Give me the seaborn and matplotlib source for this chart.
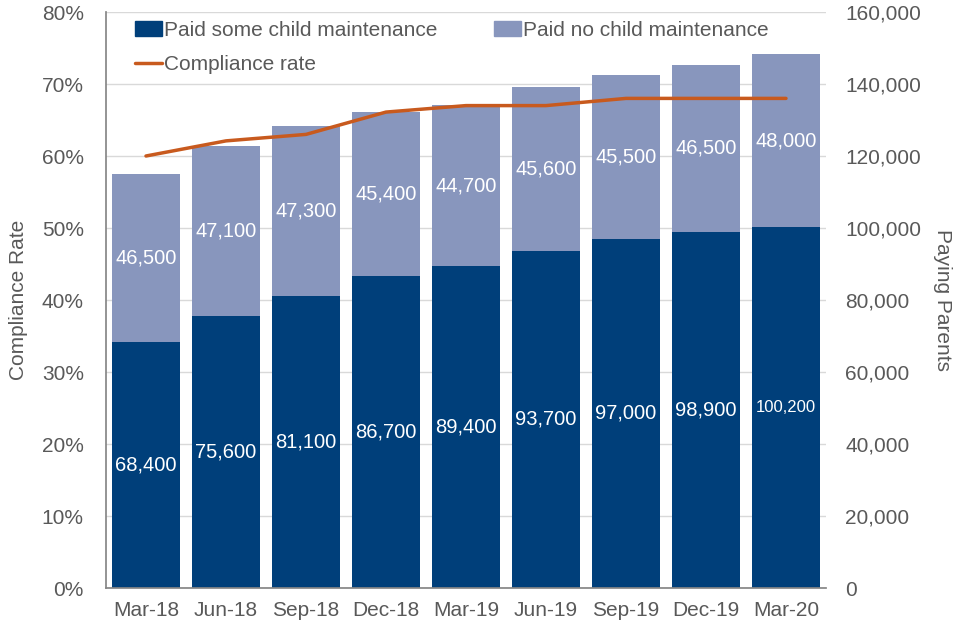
import numpy as np
import pandas as pd
import matplotlib
matplotlib.use("Agg")
import matplotlib.pyplot as plt
from matplotlib.patches import Patch
from matplotlib.lines import Line2D
import seaborn as sns

# data
quarters = ["Mar-18", "Jun-18", "Sep-18", "Dec-18", "Mar-19",
            "Jun-19", "Sep-19", "Dec-19", "Mar-20"]
paid_some = [68400, 75600, 81100, 86700, 89400, 93700, 97000, 98900, 100200]
paid_none = [46500, 47100, 47300, 45400, 44700, 45600, 45500, 46500, 48000]
compliance = [60.0, 62.1, 63.0, 66.1, 67.0, 67.0, 68.0, 68.0, 68.0]

dark = "#003F7A"
light = "#8896BD"
orange = "#C85A1E"
grey = "#595959"

df = pd.DataFrame({"quarter": quarters, "some": paid_some, "none": paid_none,
                   "rate": compliance})
df["total"] = df["some"] + df["none"]

sns.set_theme(style="white")
plt.rcParams["font.family"] = ["Liberation Sans", "DejaVu Sans"]
plt.rcParams["text.color"] = grey
plt.rcParams["axes.labelcolor"] = grey
plt.rcParams["xtick.color"] = grey
plt.rcParams["ytick.color"] = grey

fig = plt.figure(figsize=(9.6, 6.4), dpi=100)
ax = fig.add_axes([0.1104, 0.08125, 0.75, 0.9])
ax2 = ax.twinx()

# stacked bars: full total in light, paid-some on top in dark
sns.barplot(data=df, x="quarter", y="total", color=light, saturation=1,
            width=0.84, errorbar=None, ax=ax, zorder=2, linewidth=0)
sns.barplot(data=df, x="quarter", y="some", color=dark, saturation=1,
            width=0.84, errorbar=None, ax=ax, zorder=2, linewidth=0)

for i, row in df.iterrows():
    fs = 12 if row["some"] >= 100000 else 14.5
    ax.text(i, row["some"] / 2, f"{row['some']:,}", ha="center", va="center",
            color="white", fontsize=fs, zorder=3)
    ax.text(i, row["some"] + row["none"] / 2, f"{row['none']:,}", ha="center",
            va="center", color="white", fontsize=14.5, zorder=3)

ax.set_ylim(0, 160000)
ax.set_xlim(-0.5, len(quarters) - 0.5)
ax.set_yticks(np.arange(0, 160001, 20000))
ax.set_yticklabels([f"{v:,}" for v in range(0, 160001, 20000)])
ax.yaxis.tick_right()
ax.yaxis.set_label_position("right")
ax.set_ylabel("Paying Parents", fontsize=15, rotation=-90, labelpad=22)
ax.set_xlabel("")
ax.grid(axis="y", color="#D9D9D9", linewidth=1)
ax.set_axisbelow(True)
ax.tick_params(axis="y", length=0, labelsize=15, pad=14)
ax.tick_params(axis="x", length=0, labelsize=15, pad=9)
ax.set_xticks(np.arange(-0.5, len(quarters)), minor=True)
ax.tick_params(axis="x", which="minor", length=6, color="#868686", width=1)

for s in ["top", "right", "left"]:
    ax.spines[s].set_visible(False)
ax.spines["bottom"].set_color("#868686")

# compliance rate on the left axis
sns.lineplot(x=np.arange(len(quarters)), y=df["rate"], color=orange,
             linewidth=2.5, ax=ax2)
ax2.set_ylim(0, 80)
ax2.set_yticks(np.arange(0, 81, 10))
ax2.set_yticklabels([f"{v}%" for v in range(0, 81, 10)])
ax2.yaxis.tick_left()
ax2.yaxis.set_label_position("left")
ax2.set_ylabel("Compliance Rate", fontsize=15, labelpad=10)
ax2.tick_params(axis="y", length=0, labelsize=15, pad=16)
for s in ["top", "right", "bottom"]:
    ax2.spines[s].set_visible(False)
ax2.spines["left"].set_visible(True)
ax2.spines["left"].set_color("#868686")
ax2.set_xlim(-0.5, len(quarters) - 0.5)

handles = [Patch(color=dark), Line2D([], [], color=orange, linewidth=2.5),
           Patch(color=light)]
labels = ["Paid some child maintenance", "Compliance rate",
          "Paid no child maintenance"]
ax2.legend(handles, labels, ncol=2, loc="upper left", bbox_to_anchor=(0.02, 1.01),
           frameon=False, fontsize=15, handlelength=1.3, handletextpad=0.1,
           columnspacing=2.7, labelspacing=0.75, borderaxespad=0.3)

fig.savefig("out.png", dpi=100)
